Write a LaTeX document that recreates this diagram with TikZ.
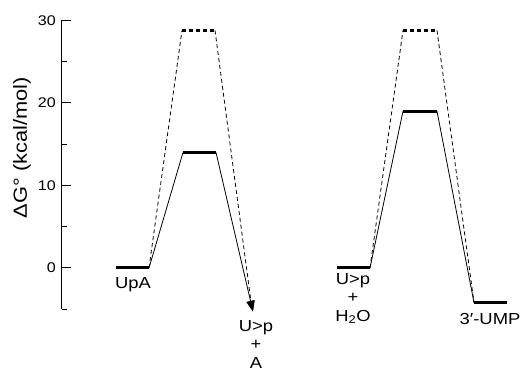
\documentclass[tikz,border=0pt]{standalone}
\usepackage{fontspec}
\setmainfont{Liberation Sans}[FakeStretch=1.15]
\usetikzlibrary{arrows.meta}
\begin{document}
\begin{tikzpicture}[x=1pt,y=8.25pt,line join=round,>={Triangle[length=11pt,width=8.5pt]}]
	\tikzset{level/.style={line width=3pt},
		barrier/.style={line width=3pt,dash pattern=on 4pt off 3pt},
		route/.style={line width=0.8pt},
		altroute/.style={line width=0.8pt,dash pattern=on 4pt off 3pt},
		lbl/.style={font=\fontsize{16}{18.5}\selectfont,inner sep=0pt,anchor=north,align=center},
		ticklbl/.style={font=\fontsize{14}{16}\selectfont,inner sep=0pt,anchor=east}}
	\useasboundingbox (-62,-12.48) rectangle (462,32.48);
	% axis
	\draw[line width=1pt] (0,-5)--(0,30);
	\foreach \e in {0,10,20,30}{
		\draw[line width=1pt] (0,\e)--(9,\e);
		\node[ticklbl] (tick\e) at (-6,\e) {\e};
	}
	\foreach \e in {-5,5,15,25} \draw[line width=1pt] (0,\e)--(5,\e);
	\node[rotate=90,font=\fontsize{19}{21}\selectfont] (axlbl) at (-40,14.6) {ΔG° (kcal/mol)};
	% levels
	\coordinate (upaL) at (54,0);     \coordinate (upaR) at (87,0);
	\coordinate (ts1L) at (121,14);   \coordinate (ts1R) at (154,14);
	\coordinate (ts1dL) at (120,28.8); \coordinate (ts1dR) at (153,28.8);
	\coordinate (prodA) at (191,-5.3); \coordinate (prodAd) at (189,-4.1);
	\coordinate (upL) at (275,0);     \coordinate (upR) at (308,0);
	\coordinate (ts2L) at (341,19);   \coordinate (ts2R) at (375,19);
	\coordinate (ts2dL) at (341,28.8); \coordinate (ts2dR) at (375,28.8);
	\coordinate (umpL) at (412,-4.2); \coordinate (umpR) at (445,-4.2);
	% paths
	\draw[altroute] (upaR)--(ts1dL) (ts1dR)--(prodAd);
	\draw[route] (upaR)--(ts1L);
	\draw[route,->] (ts1R)--(prodA);
	\draw[altroute] (upR)--(ts2dL) (ts2dR)--(umpL);
	\draw[route] (upR)--(ts2L) (ts2R)--(umpL);
	\draw[level] (upaL)--(upaR) (ts1L)--(ts1R) (upL)--(upR) (ts2L)--(ts2R) (umpL)--(umpR);
	\draw[barrier] (ts1dL)--(ts1dR) (ts2dL)--(ts2dR);
	% labels
	\node[lbl] (upalbl) at (71,-1.1) {UpA};
	\node[lbl] (prodalbl) at (194,-6.3) {U>p\\+\\A};
	\node[lbl] (uplbl) at (291,-0.6) {U>p\\+\\H\textsubscript{2}O};
	\node[lbl] (umplbl) at (428,-5.45) {3′-UMP};
\end{tikzpicture}
\end{document}
